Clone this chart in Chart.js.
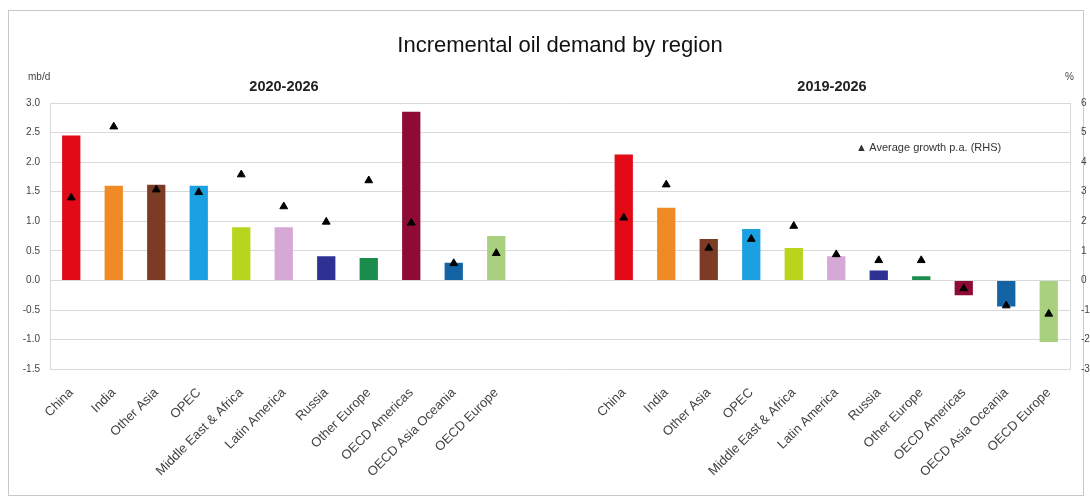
<!DOCTYPE html>
<html>
<head>
<meta charset="utf-8">
<script src="https://cdn.jsdelivr.net/npm/chart.js@4"></script>
<style>
  html, body { margin:0; padding:0; background:#fff; }
  #wrap { position:relative; width:1090px; height:499px; overflow:hidden; font-family:"Liberation Sans", Arial, sans-serif; }
  #frame { position:absolute; left:8px; top:10px; width:1076px; height:486px; border:1px solid #c8c8c8; box-sizing:border-box; }
  canvas { position:absolute; left:0; top:0; }
  .txt { position:absolute; white-space:nowrap; color:#222; }
  #title { left:0; width:1120px; top:32px; text-align:center; font-size:22px; color:#111; }
  .sub { font-size:14.5px; font-weight:bold; top:78px; transform:translateX(-50%); }
  .unit { font-size:10px; top:71px; color:#444; }
  #legend { left:856px; top:141px; font-size:11px; color:#333; }
</style>
</head>
<body>
<div id="wrap">
  <div id="frame"></div>
  <canvas id="c" width="1090" height="499"></canvas>
  <div class="txt" id="title">Incremental oil demand by region</div>
  <div class="txt sub" style="left:284px">2020-2026</div>
  <div class="txt sub" style="left:832px">2019-2026</div>
  <div class="txt unit" style="left:28px">mb/d</div>
  <div class="txt unit" style="left:1065px">%</div>
  <div class="txt" id="legend">&#9650; Average growth p.a. (RHS)</div>
</div>
<script>
const categories = ["China","India","Other Asia","OPEC","Middle East & Africa","Latin America","Russia","Other Europe","OECD Americas","OECD Asia Oceania","OECD Europe"];
const demand2020 = [2.45, 1.60, 1.62, 1.60, 0.90, 0.90, 0.41, 0.38, 2.85, 0.30, 0.75];
const growth2020 = [2.80, 5.20, 3.07, 2.98, 3.58, 2.50, 1.98, 3.38, 1.95, 0.58, 0.92];
const demand2019 = [2.13, 1.23, 0.70, 0.87, 0.55, 0.41, 0.17, 0.07, -0.25, -0.44, -1.04];
const growth2019 = [2.12, 3.24, 1.10, 1.40, 1.84, 0.88, 0.68, 0.68, -0.27, -0.85, -1.13];
const regionColors = ["#e30a17","#f08a24","#7c3b25","#1ba1e2","#b8d41c","#d5a8d6","#2e3192","#1a8c4c","#8e0b34","#1464a5","#a9d07f"];

const labels = [...categories, "", "", ...categories];
const barData = [...demand2020, null, null, ...demand2019];
const growthData = [...growth2020, null, null, ...growth2019];
const barColors = [...regionColors, "#fff", "#fff", ...regionColors];

const axisFont = { family: "Liberation Sans", size: 10 };

new Chart(document.getElementById('c'), {
  data: {
    labels: labels,
    datasets: [
      {
        type: 'line',
        label: 'Average growth p.a. (RHS)',
        data: growthData,
        yAxisID: 'y1',
        showLine: false,
        pointStyle: 'triangle',
        pointRadius: 4.5,
        pointBackgroundColor: '#000',
        pointBorderColor: '#000',
        order: 0
      },
      {
        type: 'bar',
        label: 'Demand',
        data: barData,
        yAxisID: 'y',
        backgroundColor: barColors,
        barPercentage: 0.43,
        categoryPercentage: 1.0,
        order: 1
      }
    ]
  },
  options: {
    responsive: false,
    animation: false,
    layout: { padding: { top: 103, bottom: 11, left: 0, right: 0 } },
    plugins: { legend: { display: false }, title: { display: false }, tooltip: { enabled: false } },
    scales: {
      x: {
        grid: { display: false },
        border: { display: false },
        ticks: { font: { family: "Liberation Sans", size: 13 }, color: '#444', maxRotation: 45, minRotation: 45, autoSkip: false, padding: 8 }
      },
      y: {
        position: 'left',
        min: -1.5, max: 3.0,
        afterFit: (s) => { s.width = 50; },
        ticks: { stepSize: 0.5, font: axisFont, color: '#444', padding: 10, callback: (v) => Number(v).toFixed(1) },
        grid: { color: '#d9d9d9', drawTicks: false },
        border: { display: true, color: '#d9d9d9' }
      },
      y1: {
        position: 'right',
        min: -3, max: 6,
        afterFit: (s) => { s.width = 20; },
        ticks: { stepSize: 1, font: axisFont, color: '#444' },
        grid: { display: false },
        border: { display: true, color: '#d9d9d9' }
      }
    }
  }
});
</script>
</body>
</html>
